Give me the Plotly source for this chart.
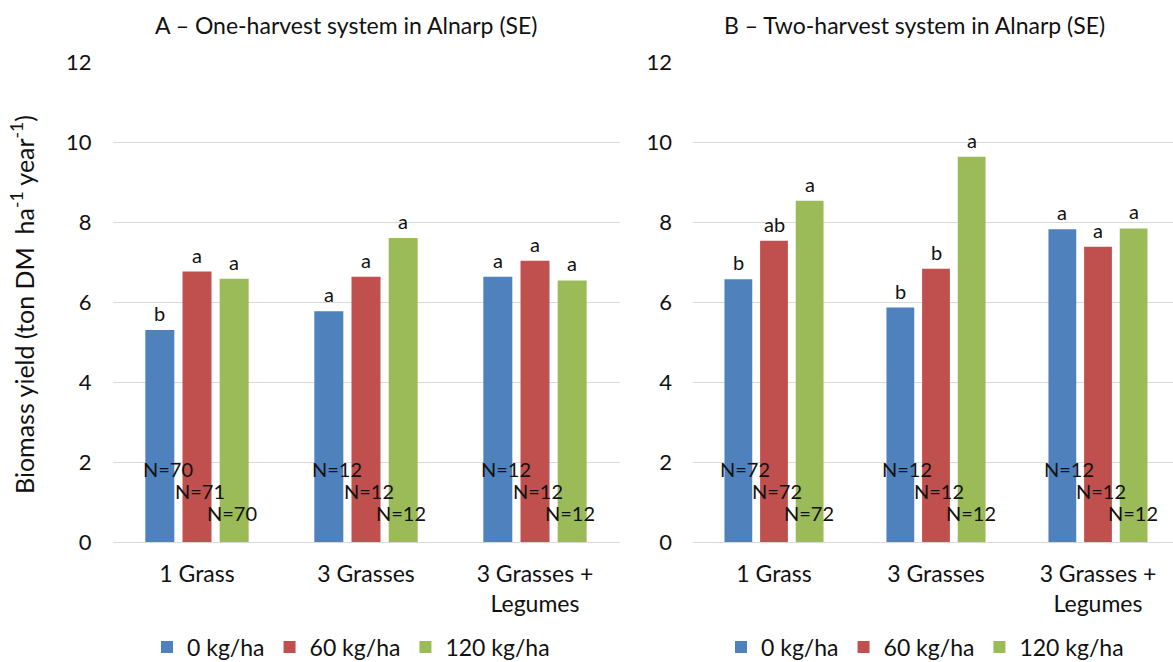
import plotly.graph_objects as go

# ---------------- data ----------------
categories = ["1 Grass", "3 Grasses", "3 Grasses +<br>Legumes"]
series_names = ["0 kg/ha", "60 kg/ha", "120 kg/ha"]
colors = ["#4F81BD", "#C0504D", "#9BBB59"]

# Panel A – one-harvest system
a_0 = [5.30, 5.77, 6.63]
a_60 = [6.76, 6.63, 7.03]
a_120 = [6.58, 7.60, 6.54]
a_letters_0 = ["b", "a", "a"]
a_letters_60 = ["a", "a", "a"]
a_letters_120 = ["a", "a", "a"]
a_n_0 = [70, 12, 12]
a_n_60 = [71, 12, 12]
a_n_120 = [70, 12, 12]

# Panel B – two-harvest system
b_0 = [6.57, 5.86, 7.82]
b_60 = [7.53, 6.83, 7.38]
b_120 = [8.53, 9.63, 7.84]
b_letters_0 = ["b", "b", "a"]
b_letters_60 = ["ab", "b", "a"]
b_letters_120 = ["a", "a", "a"]
b_n_0 = [72, 12, 12]
b_n_60 = [72, 12, 12]
b_n_120 = [72, 12, 12]

title_a = "A – One-harvest system in Alnarp (SE)"
title_b = "B – Two-harvest system in Alnarp (SE)"
y_title = "Biomass yield (ton DM  ha<sup>-1</sup> year<sup>-1</sup>)"
y_ticks = [0, 2, 4, 6, 8, 10, 12]

# ---------------- layout helpers ----------------
W, H = 1173, 662
FONT = "Lato, 'Open Sans', sans-serif"
TXT = "#111111"
BARGAP = 0.34
GROUPGAP = 0.22
slot = (1 - BARGAP) / 3


def px(x):
    return x / W


def py(y):
    return 1 - y / H


fig = go.Figure()

panels = [
    ("x", "y", "legend", [a_0, a_60, a_120],
     [a_letters_0, a_letters_60, a_letters_120], [a_n_0, a_n_60, a_n_120]),
    ("x2", "y2", "legend2", [b_0, b_60, b_120],
     [b_letters_0, b_letters_60, b_letters_120], [b_n_0, b_n_60, b_n_120]),
]

annotations = []
x_idx = list(range(len(categories)))
n_yvals = [1.82, 1.28, 0.72]
n_xshift = [-29, 3, 35]

for xa, ya, lg, series, letters, ns in panels:
    for j, (name, vals) in enumerate(zip(series_names, series)):
        fig.add_trace(go.Bar(
            x=x_idx, y=vals, name=name, marker=dict(color=colors[j], line=dict(width=0)),
            xaxis=xa, yaxis=ya, legend=lg, hoverinfo="y+name",
        ))
        for i, v in enumerate(vals):
            annotations.append(dict(
                x=i + (j - 1) * slot, y=v, xref=xa, yref=ya, text=letters[j][i],
                showarrow=False, yanchor="bottom", yshift=3,
                font=dict(size=20, family=FONT, color=TXT),
            ))
            annotations.append(dict(
                x=i, y=n_yvals[j], xref=xa, yref=ya, text=f"N={ns[j][i]}",
                showarrow=False, xanchor="center", yanchor="middle", xshift=n_xshift[j],
                font=dict(size=20, family=FONT, color=TXT),
            ))

# titles
annotations.append(dict(x=px(346), y=py(25), xref="paper", yref="paper", text=title_a,
                        showarrow=False, xanchor="center", yanchor="middle",
                        font=dict(size=23, family=FONT, color=TXT)))
annotations.append(dict(x=px(914), y=py(25), xref="paper", yref="paper", text=title_b,
                        showarrow=False, xanchor="center", yanchor="middle",
                        font=dict(size=23, family=FONT, color=TXT)))
# y axis title
annotations.append(dict(x=px(22), y=py(305), xref="paper", yref="paper", text=y_title,
                        showarrow=False, textangle=-90, xanchor="center", yanchor="middle",
                        font=dict(size=25, family=FONT, color=TXT)))

axis_common_x = dict(
    tickmode="array", tickvals=x_idx, ticktext=categories, showgrid=False,
    showline=False, zeroline=False, ticks="", fixedrange=True, ticklabelstandoff=16,
    tickfont=dict(size=23, family=FONT, color=TXT),
)
axis_common_y = dict(
    range=[0, 12], tickmode="array", tickvals=y_ticks, showgrid=True,
    gridcolor="#D9D9D9", gridwidth=1, zeroline=True, zerolinecolor="#D9D9D9",
    zerolinewidth=1, showline=False, ticks="", fixedrange=True, ticklabelstandoff=20,
    tickfont=dict(size=22, family=FONT, color=TXT),
)

fig.update_layout(
    width=W, height=H, margin=dict(l=0, r=0, t=0, b=0, autoexpand=False),
    paper_bgcolor="white", plot_bgcolor="white",
    barmode="group", bargap=BARGAP, bargroupgap=GROUPGAP,
    font=dict(family=FONT, color=TXT),
    xaxis=dict(domain=[px(112.5), px(619.5)], range=[-0.5, 2.5], anchor="y", **axis_common_x),
    yaxis=dict(domain=[py(542), py(62)], anchor="x", **axis_common_y),
    xaxis2=dict(domain=[px(693), 1.0], range=[-0.5, 2.463], anchor="y2", **axis_common_x),
    yaxis2=dict(domain=[py(542), py(62)], anchor="x2", **axis_common_y),
    legend=dict(orientation="h", x=px(147), xanchor="left", y=py(647), yanchor="middle",
                font=dict(size=23, family=FONT, color=TXT), bgcolor="rgba(0,0,0,0)"),
    legend2=dict(orientation="h", x=px(721), xanchor="left", y=py(647), yanchor="middle",
                 font=dict(size=23, family=FONT, color=TXT), bgcolor="rgba(0,0,0,0)"),
    annotations=annotations,
    showlegend=True,
)

fig.write_html("out.html", config={"displayModeBar": False},
               post_script="document.body.style.margin='0';document.body.style.overflow='hidden';")
